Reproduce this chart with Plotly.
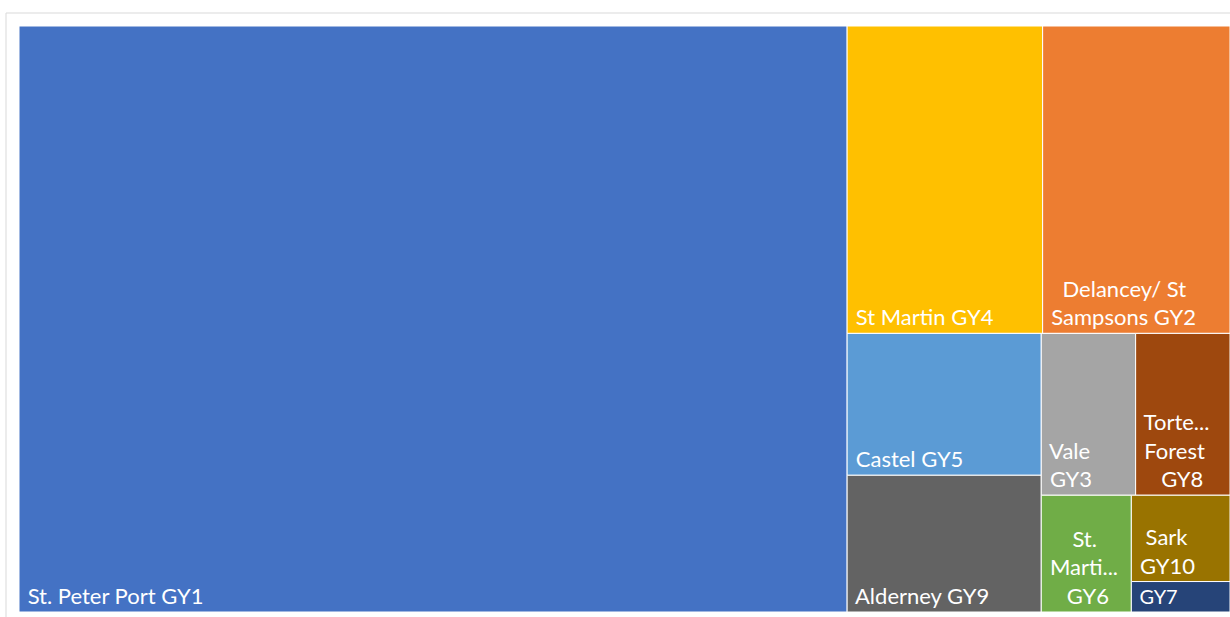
import plotly.graph_objects as go

# Postcode districts and their sizes
districts = [
    "St. Peter Port GY1", "St Martin GY4", "Delancey/ St Sampsons GY2",
    "Castel GY5", "Alderney GY9", "Vale GY3", "Torteval/ Forest GY8",
    "St. Martins GY6", "Sark GY10", "GY7",
]
NB = "\u00a0"
tile_text = [
    NB + "St. Peter Port GY1",
    NB + "St Martin GY4",
    NB * 3 + "Delancey/ St<br>" + NB + "Sampsons GY2",
    NB + "Castel GY5",
    NB + "Alderney GY9",
    NB + "Vale<br>" + NB + "GY3",
    NB + "Torte...<br>" + NB + "Forest<br>" + NB * 4 + "GY8",
    NB * 5 + "St.<br>" + NB + "Marti...<br>" + NB * 4 + "GY6",
    NB * 2 + "Sark<br>" + NB + "GY10",
    NB + "GY7",
]
values = [484.5, 60, 57.5, 27.5, 26.5, 15.25, 15.25, 10.5, 8.5, 3]
colors = [
    "#4472C4", "#FFC000", "#ED7D31", "#5B9BD5", "#636363",
    "#A5A5A5", "#9E480E", "#70AD47", "#997300", "#264478",
]

fig = go.Figure(go.Treemap(
    labels=districts,
    parents=[""] * len(districts),
    values=values,
    text=tile_text,
    texttemplate="%{text}",
    textposition="bottom left",
    textfont=dict(family="Lato", size=22, color="white"),
    marker=dict(colors=colors, line=dict(color="white", width=1),
                pad=dict(t=0, l=0, r=0, b=0)),
    tiling=dict(packing="squarify", pad=0),
    pathbar=dict(visible=False),
    sort=False,
    hoverinfo="label+value",
))

fig.update_layout(
    width=1230, height=617,
    margin=dict(l=19, r=0, t=26, b=5),
    paper_bgcolor="white",
    shapes=[dict(type="rect", xref="paper", yref="paper",
                 x0=-13 / 1211, x1=1.01, y0=-0.02, y1=1 + 13 / 586,
                 line=dict(color="#D9D9D9", width=1), layer="below")],
)

fig.write_html("out.html")
